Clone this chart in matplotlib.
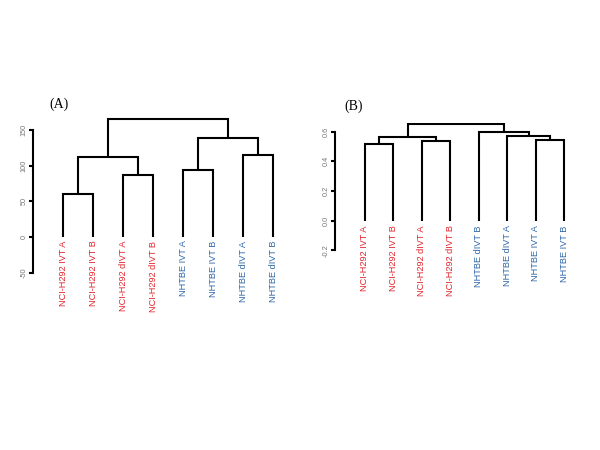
import matplotlib
matplotlib.use('Agg')
import matplotlib.pyplot as plt

red = '#e3242b'
blue = '#2d66a8'

# panel A: leaf order and merges (left child, right child, height)
labels_a = ['NCI-H292 IVT A', 'NCI-H292 IVT B', 'NCI-H292 dIVT A', 'NCI-H292 dIVT B',
            'NHTBE IVT A', 'NHTBE IVT B', 'NHTBE dIVT A', 'NHTBE dIVT B']
merges_a = [(0, 1, 60), (2, 3, 87), (4, 5, 94), (6, 7, 115),
            (8, 9, 112), (10, 11, 139), (12, 13, 165)]
ticks_a = [-50, 0, 50, 100, 150]
ticklabels_a = ['-50', '0', '50', '100', '150']

# panel B
labels_b = ['NCI-H292 IVT A', 'NCI-H292 IVT B', 'NCI-H292 dIVT A', 'NCI-H292 dIVT B',
            'NHTBE dIVT B', 'NHTBE dIVT A', 'NHTBE IVT A', 'NHTBE IVT B']
merges_b = [(0, 1, 0.518), (2, 3, 0.537), (6, 7, 0.545), (8, 9, 0.566),
            (5, 10, 0.572), (4, 12, 0.597), (11, 13, 0.653)]
ticks_b = [-0.2, 0.0, 0.2, 0.4, 0.6]
ticklabels_b = ['-0.2', '0.0', '0.2', '0.4', '0.6']


def dendro(ax, labels, merges, off):
    xs = list(range(1, len(labels) + 1))
    ys = [0.0] * len(labels)
    for a, b, h in merges:
        ax.plot([xs[a], xs[a], xs[b], xs[b]], [ys[a], h, h, ys[b]],
                color='black', lw=1.5, solid_capstyle='butt', solid_joinstyle='miter')
        xs.append((xs[a] + xs[b]) / 2.0)
        ys.append(h)
    for i, lab in enumerate(labels):
        c = red if lab.startswith('NCI') else blue
        ax.text(i + 1, -off, lab, rotation=90, ha='center', va='top', color=c,
                fontsize=6.6, family='Liberation Sans')


def style(ax, ticks, ticklabels):
    for s in ['top', 'right', 'bottom']:
        ax.spines[s].set_visible(False)
    ax.spines['left'].set_bounds(ticks[0], ticks[-1])
    ax.spines['left'].set_linewidth(1.5)
    ax.set_xticks([])
    ax.set_yticks(ticks)
    ax.set_yticklabels(ticklabels, rotation=90, va='center', fontsize=5.3,
                       color='#777777', family='Liberation Sans')
    ax.tick_params(axis='y', length=3, width=1.5, pad=1)
    ax.patch.set_alpha(0)


fig = plt.figure(figsize=(6, 4.5), dpi=100)

axa = fig.add_axes([33 / 600, 1 - 272.7 / 450, 270 / 600, 157.1 / 450])
dendro(axa, labels_a, merges_a, 5)
axa.set_xlim(0, 9)
axa.set_ylim(-50, 170)
style(axa, ticks_a, ticklabels_a)

axb = fig.add_axes([335 / 600, 1 - 250.4 / 450, 258 / 600, 127.7 / 450])
dendro(axb, labels_b, merges_b, 0.03)
axb.set_xlim(-0.05, 9)
axb.set_ylim(-0.2, 0.66)
style(axb, ticks_b, ticklabels_b)

fig.text(59 / 600, 1 - 104 / 450, '(A)', ha='center', va='center',
         fontsize=10, family='Liberation Serif')
fig.text(354 / 600, 1 - 106 / 450, '(B)', ha='center', va='center',
         fontsize=10, family='Liberation Serif')

fig.savefig('out.png', dpi=100)
